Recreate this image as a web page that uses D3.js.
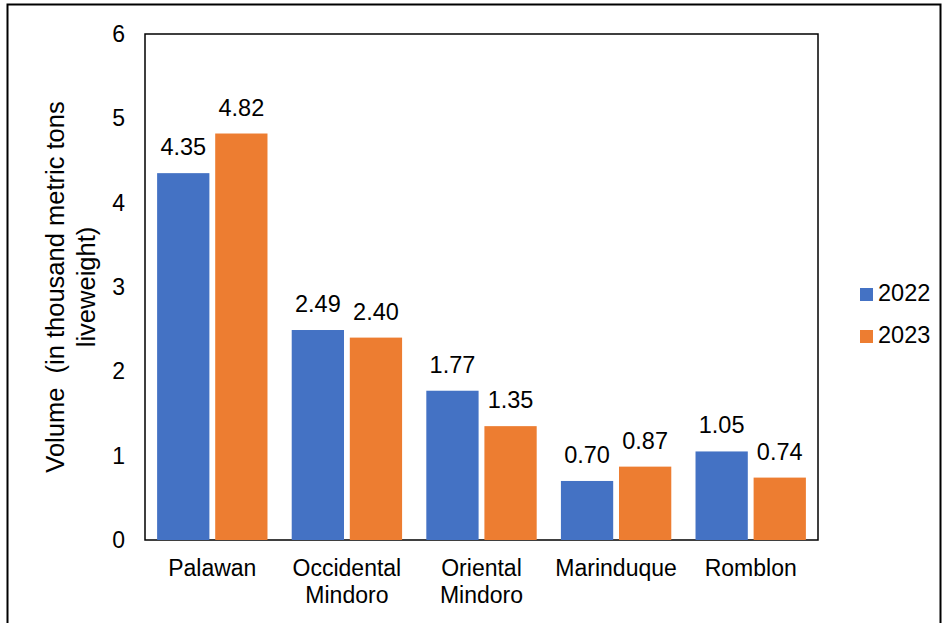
<!DOCTYPE html>
<html><head><meta charset="utf-8">
<script src="https://cdn.jsdelivr.net/npm/d3@7"></script>
<style>body{margin:0;background:#fff}svg{display:block;font-family:"Liberation Sans",Arial,sans-serif}</style>
</head><body>
<svg id="c" width="949" height="623"></svg>
<script>
const categories = [["Palawan"],["Occidental","Mindoro"],["Oriental","Mindoro"],["Marinduque"],["Romblon"]];
const seriesNames = ["2022","2023"];
const values2022 = [4.35, 2.49, 1.77, 0.70, 1.05];
const values2023 = [4.82, 2.40, 1.35, 0.87, 0.74];
const yTicks = [0,1,2,3,4,5,6];
const colors = ["#4472C4","#ED7D31"];

const svg = d3.select("#c");
svg.append("rect").attr("x",7.5).attr("y",4.5).attr("width",933).attr("height",640)
  .attr("fill","none").attr("stroke","#000").attr("stroke-width",2);

const L=145, R=818, T=34, B=540;
const names = categories.map(c=>c.join(" "));
const x0 = d3.scaleBand().domain(names).range([L,R]).paddingInner(0.18).paddingOuter(0.09);
const x1 = d3.scaleBand().domain(seriesNames).range([0,x0.bandwidth()]).paddingInner(0.1);
const y = d3.scaleLinear().domain([0,6]).range([B,T]);

svg.append("rect").attr("x",L).attr("y",T).attr("width",R-L).attr("height",B-T)
  .attr("fill","none").attr("stroke","#000").attr("stroke-width",1.5);

const vals = [values2022, values2023];
seriesNames.forEach((s,si)=>{
  const g = svg.append("g");
  g.selectAll("rect").data(names).join("rect")
    .attr("x",d=>x0(d)+x1(s)).attr("width",x1.bandwidth())
    .attr("y",(d,i)=>y(vals[si][i])).attr("height",(d,i)=>B-y(vals[si][i]))
    .attr("fill",colors[si]);
  g.selectAll("text").data(names).join("text")
    .attr("x",d=>x0(d)+x1(s)+x1.bandwidth()/2)
    .attr("y",(d,i)=>y(vals[si][i])-18)
    .attr("text-anchor","middle").attr("font-size",23.5).attr("fill","#000")
    .text((d,i)=>vals[si][i].toFixed(2));
});

const yAxis = d3.axisLeft(y).tickValues(yTicks).tickSize(0).tickPadding(20).tickFormat(d3.format("d"));
const ya = svg.append("g").attr("transform",`translate(${L},0)`).call(yAxis);
ya.select(".domain").remove();
ya.selectAll("text").attr("font-size",23).attr("font-family","Liberation Sans, Arial, sans-serif").attr("fill","#000");

const xa = svg.append("g").attr("transform",`translate(0,${B})`).call(d3.axisBottom(x0).tickSize(0).tickFormat(""));
xa.select(".domain").remove();
names.forEach((n,i)=>{
  const cx = x0(n)+x0.bandwidth()/2;
  const t = svg.append("text").attr("x",cx).attr("y",B+36)
    .attr("text-anchor","middle").attr("font-size",23).attr("fill","#000");
  categories[i].forEach((line,li)=>t.append("tspan").attr("x",cx).attr("dy",li?27:0).text(line));
});

const yl = svg.append("text").attr("transform",`translate(64,${(T+B)/2}) rotate(-90)`)
  .attr("text-anchor","middle").attr("font-size",25.5).attr("fill","#000");
yl.append("tspan").attr("x",0).attr("dy",0).style("white-space","pre").text("Volume  (in thousand metric tons");
yl.append("tspan").attr("x",0).attr("dy",31).text("liveweight)");

const lg = svg.append("g");
seriesNames.forEach((s,i)=>{
  lg.append("rect").attr("x",860).attr("y",288+i*42).attr("width",13).attr("height",13).attr("fill",colors[i]);
  lg.append("text").attr("x",878).attr("y",301+i*42).attr("font-size",23.5).attr("fill","#000").text(s);
});
</script>
</body></html>
